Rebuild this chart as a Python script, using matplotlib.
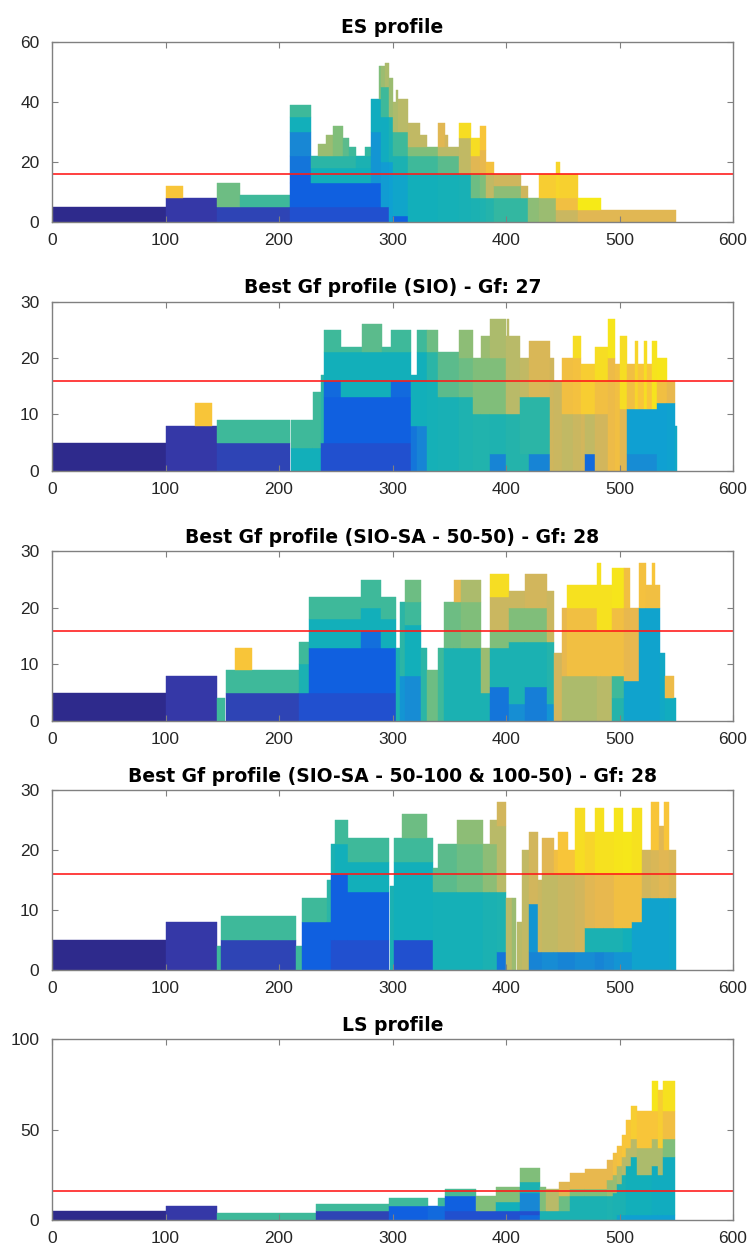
import matplotlib
matplotlib.use('Agg')
import matplotlib.pyplot as plt
from matplotlib.colors import LinearSegmentedColormap

# Each block: (start, end, bottom, top, colour level 0..1)
es_blocks = [
    (0, 100, 0, 5, 0.00), (100, 145, 0, 8, 0.05), (100, 115, 8, 12, 0.86),
    (145, 210, 0, 5, 0.10), (145, 166, 5, 13, 0.60), (166, 210, 5, 9, 0.55),
    (210, 297, 0, 5, 0.15), (210, 290, 5, 13, 0.18),
    (210, 228, 13, 16, 0.18), (210, 228, 16, 22, 0.22), (210, 228, 22, 30, 0.26),
    (210, 228, 30, 35, 0.42), (210, 228, 35, 39, 0.55),
    (228, 281, 13, 18, 0.42), (228, 268, 18, 22, 0.50), (268, 281, 18, 22, 0.45),
    (234, 241, 22, 26, 0.66), (241, 248, 22, 29, 0.66), (248, 256, 22, 32, 0.62),
    (256, 262, 22, 28, 0.58), (262, 268, 22, 25, 0.55), (276, 281, 22, 25, 0.52),
    (281, 290, 13, 30, 0.30), (281, 290, 30, 41, 0.40), (288, 290, 41, 52, 0.62),
    (290, 297, 5, 20, 0.32), (290, 297, 20, 35, 0.40), (290, 297, 35, 45, 0.55),
    (290, 293, 45, 52, 0.66), (293, 297, 45, 53, 0.68),
    (297, 300, 0, 20, 0.33), (297, 300, 20, 35, 0.45), (297, 300, 35, 48, 0.66),
    (300, 314, 0, 2, 0.18), (300, 314, 2, 16, 0.36), (300, 314, 16, 22, 0.45),
    (300, 314, 22, 30, 0.55), (300, 303, 30, 40, 0.68), (303, 305, 30, 44, 0.68),
    (305, 314, 30, 41, 0.70),
    (314, 340, 0, 16, 0.42), (314, 340, 16, 22, 0.55), (314, 340, 22, 25, 0.62),
    (314, 324, 25, 33, 0.72), (324, 330, 25, 29, 0.72),
    (340, 359, 0, 16, 0.43), (340, 359, 16, 22, 0.58), (340, 359, 22, 25, 0.70),
    (340, 346, 25, 33, 0.80), (346, 349, 25, 29, 0.76),
    (359, 369, 0, 16, 0.44), (359, 369, 16, 28, 0.72), (359, 369, 28, 33, 0.92),
    (369, 377, 0, 8, 0.45), (369, 377, 8, 16, 0.60), (369, 377, 16, 22, 0.80),
    (369, 377, 22, 28, 0.92),
    (377, 382, 0, 8, 0.46), (377, 382, 8, 16, 0.62), (377, 382, 16, 24, 0.82),
    (377, 382, 24, 32, 0.86),
    (382, 389, 0, 8, 0.48), (382, 389, 8, 16, 0.72), (382, 389, 16, 20, 0.85),
    (389, 413, 0, 8, 0.52), (389, 413, 8, 12, 0.64), (389, 413, 12, 16, 0.75),
    (413, 419, 0, 8, 0.52), (413, 419, 8, 12, 0.75),
    (419, 429, 0, 8, 0.64),
    (429, 444, 0, 8, 0.66), (429, 444, 8, 16, 0.88),
    (444, 463, 0, 4, 0.74), (444, 463, 4, 8, 0.84), (444, 448, 8, 20, 0.90),
    (448, 463, 8, 16, 0.89),
    (463, 484, 0, 4, 0.80), (463, 484, 4, 8, 0.97),
    (484, 550, 0, 4, 0.80),
]

sio_blocks = [
    (0, 100, 0, 5, 0.00), (100, 145, 0, 8, 0.05), (126, 141, 8, 12, 0.86),
    (145, 210, 0, 5, 0.10), (145, 210, 5, 9, 0.55),
    (211, 230, 0, 4, 0.42), (211, 230, 4, 9, 0.55),
    (230, 237, 0, 4, 0.42), (230, 237, 4, 14, 0.55),
    (237, 240, 0, 5, 0.15), (237, 240, 5, 17, 0.50),
    (240, 316, 0, 5, 0.15), (240, 316, 5, 13, 0.18),
    (240, 255, 13, 16, 0.20), (255, 299, 13, 16, 0.42), (299, 316, 13, 16, 0.20),
    (240, 316, 16, 21, 0.42),
    (240, 255, 21, 25, 0.55), (255, 273, 21, 22, 0.55), (273, 291, 21, 26, 0.58),
    (291, 299, 21, 22, 0.55), (299, 316, 21, 25, 0.55),
    (316, 322, 0, 8, 0.22), (316, 322, 8, 17, 0.42),
    (322, 330, 0, 8, 0.25), (322, 330, 8, 21, 0.42), (322, 330, 21, 25, 0.55),
    (330, 340, 0, 16, 0.43), (330, 340, 16, 21, 0.50), (330, 340, 21, 25, 0.60),
    (340, 359, 0, 13, 0.44), (340, 359, 13, 21, 0.58),
    (359, 371, 0, 13, 0.46), (359, 371, 13, 20, 0.60), (359, 371, 20, 25, 0.64),
    (371, 378, 0, 10, 0.47), (371, 378, 10, 20, 0.62),
    (378, 386, 0, 10, 0.47), (378, 386, 10, 20, 0.62), (378, 386, 20, 24, 0.66),
    (386, 400, 0, 3, 0.25), (386, 400, 3, 10, 0.46), (386, 400, 10, 20, 0.62),
    (386, 400, 20, 27, 0.68),
    (400, 412, 0, 10, 0.48), (400, 412, 10, 24, 0.70), (401, 403, 24, 27, 0.70),
    (412, 420, 0, 3, 0.48), (412, 420, 3, 13, 0.50), (412, 420, 13, 20, 0.72),
    (420, 439, 0, 3, 0.25), (420, 439, 3, 13, 0.50), (420, 439, 13, 23, 0.78),
    (439, 442, 0, 20, 0.75), (442, 449, 0, 16, 0.74),
    (449, 459, 0, 10, 0.72), (449, 459, 10, 20, 0.84),
    (459, 466, 0, 10, 0.74), (459, 466, 10, 20, 0.85), (459, 466, 20, 24, 0.92),
    (466, 470, 0, 10, 0.76), (470, 478, 0, 3, 0.20), (470, 478, 3, 10, 0.72),
    (466, 478, 10, 19, 0.88),
    (478, 490, 0, 10, 0.76), (478, 490, 10, 16, 0.84), (478, 490, 16, 22, 0.92),
    (490, 496, 0, 20, 0.83), (490, 496, 20, 27, 0.95),
    (496, 500, 0, 19, 0.84),
    (500, 507, 0, 11, 0.80), (500, 507, 11, 24, 0.92),
    (507, 533, 0, 3, 0.27), (507, 533, 3, 11, 0.33),
    (507, 514, 11, 19, 0.84), (514, 516, 11, 23, 0.90), (516, 522, 11, 19, 0.86),
    (522, 524, 11, 23, 0.92), (524, 529, 11, 19, 0.86), (529, 533, 11, 23, 0.94),
    (533, 542, 0, 12, 0.33), (533, 542, 12, 16, 0.84), (533, 542, 16, 20, 0.95),
    (542, 549, 0, 12, 0.34), (542, 549, 12, 16, 0.82),
    (549, 551, 0, 8, 0.38),
]

sa50_blocks = [
    (0, 100, 0, 5, 0.00), (100, 145, 0, 8, 0.05), (145, 152, 0, 4, 0.55),
    (153, 218, 0, 5, 0.10), (153, 218, 5, 9, 0.55), (161, 176, 9, 13, 0.86),
    (218, 226, 0, 5, 0.15), (218, 226, 5, 10, 0.45), (218, 226, 10, 14, 0.55),
    (226, 303, 0, 5, 0.15), (226, 303, 5, 13, 0.18),
    (226, 272, 13, 18, 0.42), (226, 272, 18, 22, 0.55),
    (272, 290, 13, 16, 0.21), (272, 290, 16, 20, 0.42), (272, 290, 20, 25, 0.55),
    (290, 303, 13, 18, 0.42), (290, 303, 18, 22, 0.55),
    (303, 307, 0, 13, 0.45),
    (307, 311, 0, 8, 0.30), (307, 311, 8, 21, 0.50),
    (311, 325, 0, 8, 0.27), (311, 325, 8, 17, 0.42), (311, 325, 17, 21, 0.55),
    (311, 325, 21, 25, 0.60),
    (325, 330, 0, 13, 0.50), (330, 340, 0, 9, 0.60), (340, 345, 0, 13, 0.55),
    (345, 354, 0, 13, 0.45), (345, 354, 13, 21, 0.60),
    (354, 360, 0, 13, 0.45), (354, 360, 13, 21, 0.60), (354, 360, 21, 25, 0.82),
    (360, 378, 0, 13, 0.45), (360, 378, 13, 21, 0.62), (360, 378, 21, 25, 0.68),
    (378, 386, 0, 5, 0.45), (378, 386, 5, 13, 0.66),
    (386, 403, 0, 6, 0.22), (386, 403, 6, 13, 0.45), (386, 403, 13, 16, 0.62),
    (386, 403, 16, 22, 0.74), (386, 403, 22, 26, 0.92),
    (403, 417, 0, 3, 0.28), (403, 417, 3, 14, 0.45), (403, 417, 14, 20, 0.62),
    (403, 417, 20, 23, 0.74),
    (417, 436, 0, 6, 0.24), (417, 436, 6, 14, 0.45), (417, 436, 14, 20, 0.62),
    (417, 436, 20, 26, 0.76),
    (436, 442, 0, 3, 0.30), (436, 442, 3, 14, 0.48), (436, 442, 14, 23, 0.74),
    (442, 449, 0, 12, 0.76),
    (449, 454, 0, 8, 0.68), (449, 454, 8, 20, 0.82),
    (454, 480, 0, 8, 0.68), (454, 480, 8, 20, 0.84), (454, 480, 20, 24, 0.93),
    (480, 484, 0, 8, 0.70), (480, 484, 8, 16, 0.84), (480, 484, 16, 28, 0.93),
    (484, 493, 0, 8, 0.70), (484, 493, 8, 16, 0.84), (484, 493, 16, 24, 0.93),
    (493, 504, 0, 4, 0.48), (493, 504, 4, 8, 0.55), (493, 504, 8, 20, 0.84),
    (493, 504, 20, 27, 0.95),
    (504, 517, 0, 7, 0.35), (504, 517, 7, 20, 0.82), (504, 509, 20, 27, 0.84),
    (517, 523, 0, 20, 0.35), (517, 523, 20, 28, 0.85),
    (523, 536, 0, 20, 0.35), (523, 536, 20, 24, 0.84), (529, 531, 24, 28, 0.86),
    (536, 540, 0, 12, 0.38),
    (540, 548, 0, 4, 0.40), (540, 548, 4, 8, 0.83), (548, 550, 0, 4, 0.40),
]

sa100_blocks = [
    (0, 100, 0, 5, 0.00), (100, 145, 0, 8, 0.05), (145, 149, 0, 4, 0.55),
    (149, 215, 0, 5, 0.10), (149, 215, 5, 9, 0.55), (215, 220, 0, 4, 0.55),
    (220, 242, 0, 8, 0.18), (220, 242, 8, 12, 0.55),
    (242, 246, 0, 8, 0.18), (242, 246, 8, 15, 0.50),
    (246, 249, 0, 5, 0.15), (246, 249, 5, 16, 0.18), (246, 249, 16, 21, 0.45),
    (249, 261, 0, 5, 0.15), (249, 261, 5, 16, 0.18), (249, 261, 16, 21, 0.42),
    (249, 261, 21, 25, 0.55),
    (261, 297, 0, 5, 0.15), (261, 297, 5, 13, 0.18), (261, 297, 13, 18, 0.42),
    (261, 297, 18, 22, 0.55),
    (298, 301, 0, 14, 0.45),
    (301, 336, 0, 5, 0.15), (301, 336, 5, 18, 0.42), (301, 336, 18, 22, 0.55),
    (308, 330, 22, 26, 0.60),
    (336, 340, 0, 13, 0.43), (336, 340, 13, 17, 0.58),
    (340, 357, 0, 13, 0.43), (340, 357, 13, 21, 0.58),
    (357, 380, 0, 13, 0.43), (357, 380, 13, 21, 0.60), (357, 380, 21, 25, 0.64),
    (380, 386, 0, 13, 0.45), (380, 386, 13, 21, 0.64),
    (386, 392, 0, 13, 0.45), (386, 392, 13, 21, 0.64), (386, 392, 21, 25, 0.70),
    (392, 400, 0, 3, 0.22), (392, 400, 3, 13, 0.46), (392, 400, 13, 24, 0.70),
    (392, 400, 24, 28, 0.76),
    (400, 405, 0, 12, 0.70), (405, 409, 0, 12, 0.66), (410, 414, 0, 8, 0.70),
    (414, 420, 0, 20, 0.72),
    (420, 428, 0, 3, 0.25), (420, 428, 3, 11, 0.30), (420, 428, 11, 23, 0.76),
    (428, 432, 0, 3, 0.25), (428, 432, 3, 15, 0.74),
    (432, 442, 0, 3, 0.27), (432, 442, 3, 16, 0.72), (432, 442, 16, 22, 0.80),
    (442, 446, 0, 3, 0.27), (442, 446, 3, 16, 0.72), (442, 446, 16, 20, 0.84),
    (446, 455, 0, 3, 0.25), (446, 455, 3, 16, 0.74), (446, 455, 16, 23, 0.86),
    (455, 461, 0, 3, 0.25), (455, 461, 3, 16, 0.74), (455, 461, 16, 20, 0.86),
    (461, 470, 0, 3, 0.27), (461, 470, 3, 16, 0.76), (461, 470, 16, 27, 0.92),
    (470, 478, 0, 3, 0.27), (470, 478, 3, 7, 0.45), (470, 478, 7, 16, 0.80),
    (470, 478, 16, 23, 0.90),
    (478, 486, 0, 3, 0.25), (478, 486, 3, 7, 0.45), (478, 486, 7, 16, 0.82),
    (478, 486, 16, 27, 0.93),
    (486, 495, 0, 3, 0.27), (486, 495, 3, 7, 0.45), (486, 495, 7, 16, 0.82),
    (486, 495, 16, 23, 0.93),
    (495, 503, 0, 3, 0.30), (495, 503, 3, 7, 0.45), (495, 503, 7, 16, 0.84),
    (495, 503, 16, 27, 0.95),
    (503, 511, 0, 3, 0.30), (503, 511, 3, 7, 0.42), (503, 511, 7, 16, 0.84),
    (503, 511, 16, 23, 0.96),
    (511, 520, 0, 8, 0.35), (511, 520, 8, 16, 0.84), (511, 520, 16, 27, 0.93),
    (520, 528, 0, 12, 0.35), (520, 528, 12, 20, 0.76),
    (528, 535, 0, 12, 0.35), (528, 535, 12, 20, 0.78), (528, 535, 20, 28, 0.86),
    (535, 539, 0, 12, 0.35), (535, 539, 12, 24, 0.80),
    (539, 544, 0, 12, 0.35), (539, 544, 12, 20, 0.80), (539, 544, 20, 28, 0.86),
    (544, 550, 0, 12, 0.36), (544, 550, 12, 20, 0.78),
]

ls_blocks = [
    (0, 100, 0, 5, 0.00), (100, 145, 0, 8, 0.05), (145, 233, 0, 4, 0.55),
    (233, 297, 0, 5, 0.10), (233, 297, 5, 9, 0.55),
    (297, 331, 0, 8, 0.18), (297, 331, 8, 12, 0.55),
    (331, 340, 0, 8, 0.20), (340, 346, 0, 8, 0.20), (340, 346, 8, 12, 0.55),
    (346, 374, 0, 5, 0.15), (346, 374, 5, 13, 0.18), (346, 374, 13, 17, 0.56),
    (374, 391, 0, 5, 0.15), (374, 391, 5, 13, 0.62),
    (391, 412, 0, 5, 0.15), (391, 412, 5, 10, 0.42), (391, 412, 10, 18, 0.62),
    (412, 430, 0, 3, 0.20), (412, 430, 3, 5, 0.15), (412, 430, 5, 15, 0.26),
    (412, 430, 15, 21, 0.45), (412, 430, 21, 29, 0.62),
    (430, 435, 0, 5, 0.45), (430, 435, 5, 18, 0.62),
    (435, 447, 0, 5, 0.45), (435, 447, 5, 17, 0.70),
    (447, 456, 0, 5, 0.45), (447, 456, 5, 13, 0.60), (447, 456, 13, 21, 0.80),
    (456, 470, 0, 13, 0.45), (456, 470, 13, 17, 0.62), (456, 470, 17, 26, 0.82),
    (470, 489, 0, 13, 0.45), (470, 489, 13, 17, 0.62), (470, 489, 17, 28, 0.82),
    (489, 494, 0, 13, 0.46), (489, 494, 13, 22, 0.65), (489, 494, 22, 33, 0.82),
    (494, 498, 0, 15, 0.45), (494, 498, 15, 25, 0.66), (494, 498, 25, 37, 0.84),
    (498, 502, 0, 3, 0.35), (498, 502, 3, 20, 0.45), (498, 502, 20, 30, 0.68),
    (498, 502, 30, 41, 0.85),
    (502, 506, 0, 3, 0.35), (502, 506, 3, 25, 0.45), (502, 506, 25, 35, 0.70),
    (502, 506, 35, 47, 0.86),
    (506, 510, 0, 3, 0.33), (506, 510, 3, 30, 0.42), (506, 510, 30, 40, 0.70),
    (506, 510, 40, 55, 0.86),
    (510, 515, 0, 3, 0.33), (510, 515, 3, 35, 0.42), (510, 515, 35, 45, 0.70),
    (510, 515, 45, 63, 0.88),
    (515, 529, 0, 3, 0.33), (515, 529, 3, 25, 0.42), (515, 529, 25, 40, 0.68),
    (515, 529, 40, 60, 0.86),
    (529, 534, 0, 3, 0.33), (529, 534, 3, 30, 0.40), (529, 534, 30, 45, 0.68),
    (529, 534, 45, 60, 0.86), (529, 534, 60, 77, 0.95),
    (534, 538, 0, 3, 0.33), (534, 538, 3, 25, 0.40), (534, 538, 25, 40, 0.68),
    (534, 538, 40, 72, 0.88),
    (538, 549, 0, 3, 0.33), (538, 549, 3, 35, 0.40), (538, 549, 35, 45, 0.62),
    (538, 549, 45, 60, 0.84), (538, 549, 60, 77, 0.93),
]

titles = [
    'ES profile',
    'Best Gf profile (SIO) - Gf: 27',
    'Best Gf profile (SIO-SA - 50-50) - Gf: 28',
    'Best Gf profile (SIO-SA - 50-100 & 100-50) - Gf: 28',
    'LS profile',
]
y_limits = [60, 30, 30, 30, 100]
y_ticks = [[0, 20, 40, 60], [0, 10, 20, 30], [0, 10, 20, 30], [0, 10, 20, 30], [0, 50, 100]]
capacity = 16

# parula-like colours as they appear (semi transparent patches)
parula_like = LinearSegmentedColormap.from_list('parula_like', [
    (0.00, '#2E2A8C'), (0.05, '#3539A9'), (0.10, '#2E44B6'), (0.15, '#2150CF'),
    (0.18, '#1060E0'), (0.22, '#1475DA'), (0.26, '#1888D4'), (0.33, '#0FA0D2'),
    (0.42, '#12AFBA'), (0.50, '#2AB5A6'), (0.55, '#3EB99A'), (0.62, '#80BE7A'),
    (0.70, '#B8BA68'), (0.76, '#D2B65C'), (0.82, '#E8B84E'), (0.86, '#F8C43A'),
    (0.93, '#F6E020'), (1.00, '#F6F012'),
])

W, H = 751, 1248
# axes boxes in pixels (top, bottom)
boxes = [(41.7, 221.7), (301.7, 470.7), (551.5, 721.0), (790.0, 969.5), (1039.0, 1220.0)]
left_px, right_px = 52, 733

plt.rcParams['font.family'] = ['Liberation Sans', 'DejaVu Sans']
fig = plt.figure(figsize=(W / 100, H / 100), dpi=100)

all_blocks = [es_blocks, sio_blocks, sa50_blocks, sa100_blocks, ls_blocks]
for i, blocks in enumerate(all_blocks):
    top, bot = boxes[i]
    ax = fig.add_axes([left_px / W, 1 - bot / H, (right_px - left_px) / W, (bot - top) / H])
    x0 = [b[0] for b in blocks]
    widths = [b[1] - b[0] for b in blocks]
    bottoms = [b[2] for b in blocks]
    heights = [b[3] - b[2] for b in blocks]
    colors = [parula_like(b[4]) for b in blocks]
    ax.bar(x0, heights, width=widths, bottom=bottoms, align='edge',
           color=colors, edgecolor=colors, linewidth=0.3)
    ax.axhline(capacity, color='#ff1a1a', linewidth=1.3, alpha=0.9)

    ax.set_xlim(0, 600)
    ax.set_ylim(0, y_limits[i])
    ax.set_xticks(range(0, 601, 100))
    ax.set_yticks(y_ticks[i])
    ax.tick_params(direction='in', length=4, width=0.8, top=True, right=True,
                   labelsize=12.5, colors='#808080', labelcolor='#262626')
    ax.tick_params(axis='x', pad=8)
    ax.tick_params(axis='y', pad=9)
    for sp in ax.spines.values():
        sp.set_color('#808080')
        sp.set_linewidth(1.0)
    ax.set_title(titles[i], fontsize=13.5, fontweight='bold', pad=6,
                 family=['DejaVu Sans'])

fig.savefig('out.png', dpi=100)
